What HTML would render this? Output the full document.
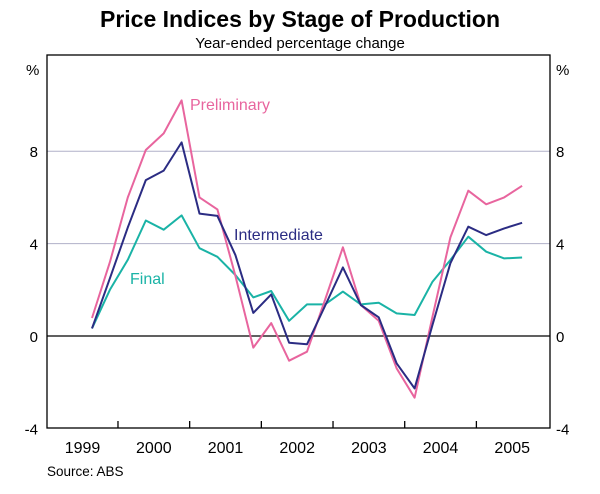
<!DOCTYPE html>
<html><head><meta charset="utf-8"><style>
body{margin:0;background:#fff}
svg text{font-family:"Liberation Sans",Arial,sans-serif}
</style></head><body>
<svg id="chart" width="600" height="489" viewBox="0 0 600 489" xmlns="http://www.w3.org/2000/svg">
<text x="300" y="27" text-anchor="middle" font-size="23" font-weight="bold" fill="#000">Price Indices by Stage of Production</text>
<text x="300" y="48" text-anchor="middle" font-size="15" fill="#000">Year-ended percentage change</text>
<g id="grid"></g>
<g id="series"></g>
<rect x="47" y="55" width="503" height="373" fill="none" stroke="#000" stroke-width="1.3"/>
<g id="axes"></g>
<text x="190" y="110" font-size="16" fill="#e8659e">Preliminary</text>
<text x="234" y="240" font-size="16" fill="#2b2c83">Intermediate</text>
<text x="130" y="284" font-size="16" fill="#1ab3a6">Final</text>
<text x="47" y="476" font-size="13.5" fill="#000">Source: ABS</text>
</svg>
<script>
const yTicks = [8, 4, 0, -4];
const years = ["1999", "2000", "2001", "2002", "2003", "2004", "2005"];
const preliminary = [0.78, 3.2, 6.0, 8.05, 8.77, 10.2, 6.0, 5.48, 2.6, -0.5, 0.56, -1.07, -0.68, 1.56, 3.84, 1.34, 0.66, -1.4, -2.67, 0.84, 4.27, 6.29, 5.7, 6.0, 6.5];
const intermediate = [0.33, 2.5, 4.7, 6.75, 7.16, 8.38, 5.3, 5.2, 3.5, 1.0, 1.8, -0.29, -0.36, 1.3, 2.97, 1.34, 0.81, -1.18, -2.27, 0.48, 3.15, 4.73, 4.37, 4.66, 4.9];
const finalIdx = [0.33, 2.0, 3.3, 5.0, 4.6, 5.22, 3.8, 3.43, 2.64, 1.67, 1.95, 0.66, 1.37, 1.37, 1.92, 1.37, 1.44, 0.98, 0.91, 2.35, 3.29, 4.3, 3.65, 3.36, 3.4];

const NS = "http://www.w3.org/2000/svg";
const x0 = 92, step = 17.92;
function xScale(i){ return x0 + i*step; }
function yScale(v){ return 336 - v*23.1; }
function mk(tag, attrs, parent){
  const e = document.createElementNS(NS, tag);
  for (const k in attrs) e.setAttribute(k, attrs[k]);
  document.getElementById(parent).appendChild(e);
  return e;
}
yTicks.forEach(v => {
  const y = yScale(v);
  if (v !== -4) {
    const l = mk("line", {x1:47, x2:550, y1:y, y2:y, stroke: v===0 ? "#000" : "#b0b0c8", "stroke-width": v===0 ? 1.3 : 1}, "grid");
    
    
  }
  const a = mk("text", {x:38, y:y+6, "text-anchor":"end", "font-size":15}, "axes");
  a.textContent = v;
  
  
  const b = mk("text", {x:556, y:y+6, "font-size":15}, "axes");
  b.textContent = v;
  
  
});
const p1 = mk("text", {x:26, y:75, "font-size":15}, "axes"); p1.textContent = "%";


const p2 = mk("text", {x:556, y:75, "font-size":15}, "axes"); p2.textContent = "%";


const firstBoundary = xScale(1.45);
years.forEach((yr, k) => {
  const bx = firstBoundary + k*4*step;
  if (k < years.length - 1) {
    const t = mk("line", {x1:bx, x2:bx, y1:428, y2:421, stroke:"#000", "stroke-width":1.3}, "axes");
    
    
  }
  const cx = k === 0 ? (47 + firstBoundary)/2 : bx - 2*step;
  const lb = mk("text", {x:cx, y:453, "text-anchor":"middle", "font-size":16}, "axes");
  lb.textContent = yr;
  
  
});
function drawLine(arr, color, name){
  const d = arr.map((v,i)=> (i?"L":"M") + xScale(i).toFixed(1) + "," + yScale(v).toFixed(1)).join(" ");
  const p = mk("path", {d:d, fill:"none", stroke:color, "stroke-width":2, "stroke-linejoin":"round"}, "series");
  
  
}
drawLine(finalIdx, "#1ab3a6", "final-line");
drawLine(preliminary, "#e8659e", "preliminary-line");
drawLine(intermediate, "#2b2c83", "intermediate-line");
</script>
</body></html>
